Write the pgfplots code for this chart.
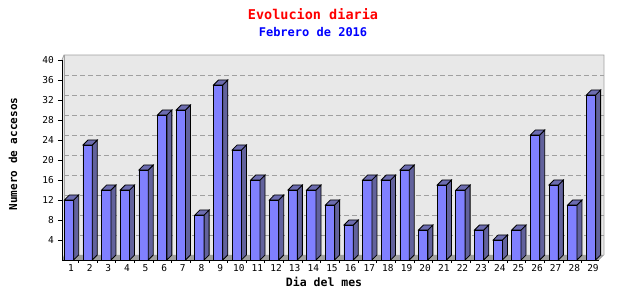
\documentclass[border=0pt]{standalone}
\usepackage{pgfplots}
\pgfplotsset{compat=1.18}
\usepackage{fontspec}
\setmainfont{DejaVu Sans Mono}
\definecolor{barfront}{RGB}{128,128,255}
\definecolor{barside}{RGB}{98,98,156}
\definecolor{bartop}{RGB}{108,108,176}
\definecolor{wall}{RGB}{232,232,232}
\definecolor{floorc}{RGB}{160,160,160}
\definecolor{gridc}{RGB}{160,160,160}
\pgfdeclareplotmark{bar3d}{%
  \pgfsetlinewidth{0.8pt}%
  \pgfsetstrokecolor{black}%
  \pgfsetfillcolor{barside}%
  \pgfpathmoveto{\pgfpoint{4.65pt}{0pt}}%
  \pgfpathlineto{\pgfpoint{9.65pt}{5pt}}%
  \pgfpathlineto{\pgfpoint{9.65pt}{5pt-\ry*5pt}}%
  \pgfpathlineto{\pgfpoint{4.65pt}{-\ry*5pt}}%
  \pgfpathclose
  \pgfusepath{fill,stroke}%
  \pgfsetfillcolor{bartop}%
  \pgfpathmoveto{\pgfpoint{-4.65pt}{0pt}}%
  \pgfpathlineto{\pgfpoint{0.35pt}{5pt}}%
  \pgfpathlineto{\pgfpoint{9.65pt}{5pt}}%
  \pgfpathlineto{\pgfpoint{4.65pt}{0pt}}%
  \pgfpathclose
  \pgfusepath{fill,stroke}%
}
\pgfplotstableread{
x y
1 12
2 23
3 14
4 14
5 18
6 29
7 30
8 9
9 35
10 22
11 16
12 12
13 14
14 14
15 11
16 7
17 16
18 16
19 18
20 6
21 15
22 14
23 6
24 4
25 6
26 25
27 15
28 11
29 33
}\datatable
\begin{document}
\begin{tikzpicture}
\begin{axis}[
  set layers,
  at={(62pt,40pt)}, anchor=south west,
  scale only axis, width=537pt, height=200pt,
  xmin=0.6245, xmax=29.43, ymin=0, ymax=40,
  clip=false,
  axis x line*=bottom, axis y line*=left,
  x axis line style={-, black, line width=0.8pt},
  y axis line style={-, black, line width=0.8pt},
  tick align=outside,
  xtick={1,...,29},
  x tick style={draw=none},
  minor xtick={1.5,2.5,...,28.5},
  minor x tick style={draw=black, line width=0.6pt},
  minor tick length=3pt,
  ytick={4,8,...,40},
  y tick style={black, line width=0.6pt},
  major tick length=4pt,
  /pgf/number format/assume math mode=true,
  xticklabel style={font=\fontsize{9.5}{10}\selectfont, anchor=north, inner sep=0pt, xshift=2pt},
  yticklabel style={font=\fontsize{9.5}{10}\selectfont, anchor=east, inner sep=0pt, xshift=-4pt},
  every axis title shift=0pt,
  title={Evolucion diaria},
  title style={at={(rel axis cs:0.4674,1.23)}, anchor=center, inner sep=0pt, text=red, font=\fontsize{13.5}{15}\bfseries\selectfont},
  xlabel={Dia del mes},
  xlabel style={at={(rel axis cs:0.488,-0.11)}, anchor=center, inner sep=0pt, font=\fontsize{11.5}{13}\bfseries\selectfont},
  ylabel={Numero de accesos},
  ylabel style={at={(rel axis cs:-0.0912,0.53)}, anchor=center, inner sep=0pt, font=\fontsize{11}{13}\bfseries\selectfont},
]
\begin{pgfonlayer}{axis background}
  \fill[wall] ([shift={(2pt,5pt)}]rel axis cs:0,0) rectangle ([shift={(5pt,5pt)}]rel axis cs:1,1);
  \fill[wall] (rel axis cs:0,0) -- ([shift={(2pt,5pt)}]rel axis cs:0,0) -- ([shift={(2pt,5pt)}]rel axis cs:0,1) -- (rel axis cs:0,1) -- cycle;
  \pgfplotsinvokeforeach{4,8,12,16,20,24,28,32,36}{
    \draw[gridc, line width=0.7pt, dash pattern=on 5pt off 3pt] ([shift={(2pt,5pt)}]axis cs:0.6245,#1) -- ([shift={(5pt,5pt)}]axis cs:29.43,#1);
  }
  \fill[floorc] (rel axis cs:0,0) -- (rel axis cs:1,0) -- ([shift={(5pt,5pt)}]rel axis cs:1,0) -- ([shift={(2pt,5pt)}]rel axis cs:0,0) -- cycle;
  \draw[gridc, line width=0.8pt] (rel axis cs:0,1) -- ([shift={(2pt,5pt)}]rel axis cs:0,1) -- ([shift={(5pt,5pt)}]rel axis cs:1,1) -- ([shift={(5pt,5pt)}]rel axis cs:1,0);
  \draw[gridc, line width=0.5pt] ([shift={(2pt,5pt)}]rel axis cs:0,0) -- ([shift={(2pt,5pt)}]rel axis cs:0,1);
\end{pgfonlayer}
\addplot[ybar, bar width=9.3pt, fill=barfront, draw=black, line width=0.8pt] table[x=x, y=y] {\datatable};
\addplot[only marks, mark=bar3d, visualization depends on={rawy \as \ry}] table[x=x, y=y] {\datatable};
\node[text=blue, font=\fontsize{12}{14}\bfseries\selectfont, inner sep=0pt] at (rel axis cs:0.4674,1.14) {Febrero de 2016};
\end{axis}
\path (0,0) rectangle (640pt,300pt);
\end{tikzpicture}
\end{document}
